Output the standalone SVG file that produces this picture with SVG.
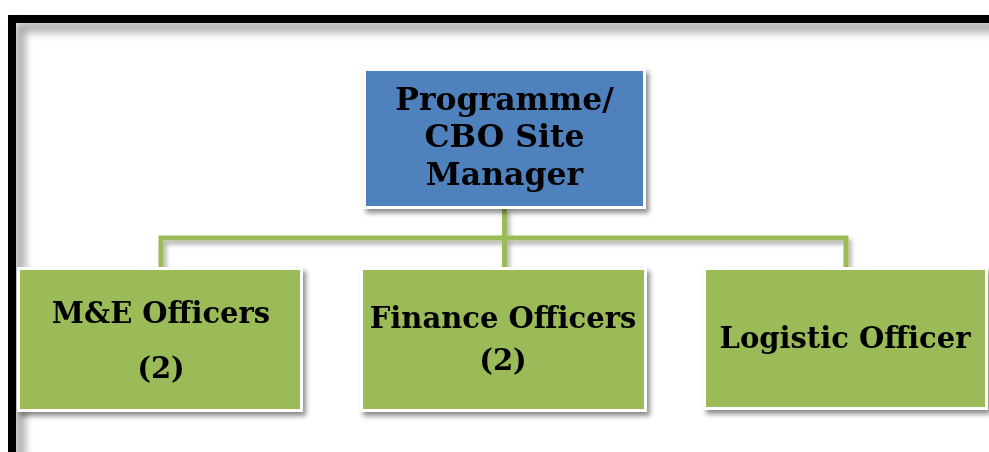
<svg xmlns="http://www.w3.org/2000/svg" width="989" height="452" viewBox="0 0 989 452">
<defs>
<style>
.node{stroke:#fff;stroke-width:3}
.blue{fill:#4F81BD}
.green{fill:#9BBB59}
.lbl{font-family:"DejaVu Serif","Liberation Serif",serif;font-weight:bold;font-size:29px;fill:#000;text-anchor:middle}
.big{font-size:31.5px}
.conn{fill:none;stroke:#9BBB59;stroke-width:5}
</style>
<filter id="sh" x="-10%" y="-10%" width="130%" height="130%">
<feDropShadow dx="3" dy="4" stdDeviation="2.5" flood-color="#000" flood-opacity="0.45"/>
</filter>
<filter id="shl" x="-10%" y="-50%" width="130%" height="300%">
<feDropShadow dx="3" dy="4" stdDeviation="2" flood-color="#000" flood-opacity="0.3"/>
</filter>
<filter id="inner" x="-5%" y="-5%" width="110%" height="110%">
<feGaussianBlur stdDeviation="4"/>
</filter>
</defs>
<rect x="0" y="0" width="989" height="452" fill="#fff"/>
<g id="frame">
<path d="M20 460 V27 H1000" fill="none" stroke="#000" stroke-opacity="0.35" stroke-width="10" filter="url(#inner)"/>
<rect x="12" y="19" width="1000" height="500" fill="none" stroke="#000" stroke-width="8"/>
</g>
<g id="connectors" filter="url(#shl)">
<path class="conn" d="M504.5 208 V238 M161 268 V238 H846 V268 M504.5 238 V268"/>
</g>
<g id="top" filter="url(#sh)">
<rect class="node blue" x="364.5" y="69.5" width="280" height="138"/>
<text class="lbl big" x="504.5" y="110">Programme/</text>
<text class="lbl big" x="504.5" y="147">CBO Site</text>
<text class="lbl big" x="504.5" y="185">Manager</text>
</g>
<g id="me" filter="url(#sh)">
<rect class="node green" x="18.5" y="268.5" width="283" height="142"/>
<text class="lbl" x="161" y="323">M&amp;E Officers</text>
<text class="lbl" x="161" y="378">(2)</text>
</g>
<g id="finance" filter="url(#sh)">
<rect class="node green" x="361.5" y="268.5" width="284" height="142"/>
<text class="lbl" x="503" y="328">Finance Officers</text>
<text class="lbl" x="503" y="370">(2)</text>
</g>
<g id="logistic" filter="url(#sh)">
<rect class="node green" x="704.5" y="268.5" width="282" height="140"/>
<text class="lbl" x="845" y="348">Logistic Officer</text>
</g>
</svg>
